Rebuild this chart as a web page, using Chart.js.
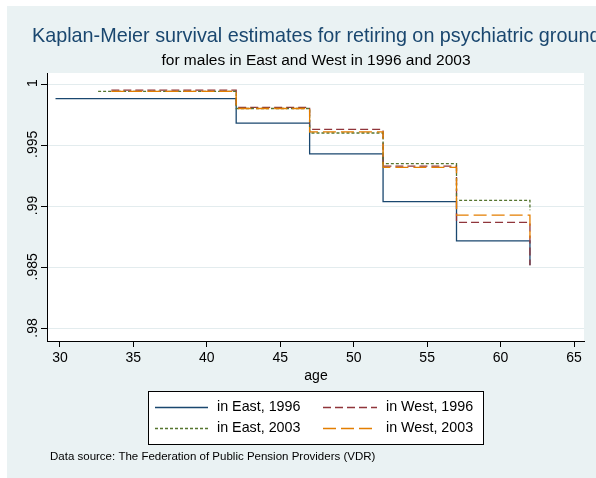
<!DOCTYPE html>
<html>
<head>
<meta charset="utf-8">
<script src="https://cdn.jsdelivr.net/npm/chart.js@4.4.1/dist/chart.umd.min.js"></script>
<style>
    html, body { margin: 0; padding: 0; background: #fff; overflow: hidden; }
    canvas { display: block; }
</style>
</head>
<body>
<canvas id="grafico" width="596" height="478"></canvas>
<script>
// textos
const titulo = 'Kaplan-Meier survival estimates for retiring on psychiatric grounds';
const subtitulo = 'for males in East and West in 1996 and 2003';
const tituloX = 'age';
const nota = 'Data source: The Federation of Public Pension Providers (VDR)';

// ticks
const ticksX = [30, 35, 40, 45, 50, 55, 60, 65];
const ticksY = [0.98, 0.985, 0.99, 0.995, 1];

// series (idade, sobrevivencia)
const nomes = ['in East, 1996', 'in West, 1996', 'in East, 2003', 'in West, 2003'];
const idadesLeste1996 = [29.7, 42, 47, 52, 57, 62];
const leste1996 = [0.9988, 0.9968, 0.9943, 0.9904, 0.9872, 0.9852];
const idadesOeste1996 = [33.5, 42, 47, 52, 57, 62];
const oeste1996 = [0.9995, 0.9981, 0.9963, 0.9933, 0.9887, 0.9852];
const idadesLeste2003 = [32.6, 42, 47, 52, 57, 62];
const leste2003 = [0.9994, 0.9980, 0.9960, 0.9935, 0.9905, 0.9897];
const idadesOeste2003 = [33.5, 42, 47, 52, 57, 62];
const oeste2003 = [0.9994, 0.9980, 0.9961, 0.9932, 0.9893, 0.9874];

const cores = ['#1a476f', '#90353b', '#55752f', '#e37e00'];
const tracos = [[], [8, 4], [3, 2], [13, 5]];

function pontos(idades, valores) {
    return idades.map((idade, i) => ({ x: idade, y: valores[i] }));
}

const series = [
    pontos(idadesLeste1996, leste1996),
    pontos(idadesOeste1996, oeste1996),
    pontos(idadesLeste2003, leste2003),
    pontos(idadesOeste2003, oeste2003)
];

const fundo = '#eaf2f3';
const fonte = '"Liberation Sans", Arial, sans-serif';

const pluginFundo = {
    id: 'fundo',
    beforeDraw(chart) {
        const ctx = chart.ctx;
        const area = chart.chartArea;
        ctx.save();
        ctx.fillStyle = '#fff';
        ctx.fillRect(0, 0, chart.width, chart.height);
        ctx.fillStyle = fundo;
        ctx.fillRect(7, 6, chart.width - 7, chart.height - 6);
        ctx.fillStyle = '#fff';
        ctx.fillRect(area.left, area.top, area.right - area.left, area.bottom - area.top);
        ctx.restore();
    }
};

const pluginTextos = {
    id: 'textos',
    afterDraw(chart) {
        const ctx = chart.ctx;
        const escalaY = chart.scales.y;
        ctx.save();

        // titulos (o titulo passa da borda direita, como no original)
        ctx.textAlign = 'left';
        ctx.textBaseline = 'middle';
        ctx.fillStyle = '#1a476f';
        ctx.font = '19.8px ' + fonte;
        ctx.fillText(titulo, 32, 37);
        ctx.textAlign = 'center';
        ctx.fillStyle = '#000';
        ctx.font = '15.5px ' + fonte;
        ctx.fillText(subtitulo, 316, 61);

        // rotulos do eixo y, girados
        ctx.font = '14px ' + fonte;
        ticksY.forEach(v => {
            const y = escalaY.getPixelForValue(v);
            ctx.save();
            ctx.translate(33, y - 1);
            ctx.rotate(-Math.PI / 2);
            ctx.fillText(String(v).replace(/^0/, ''), 0, 0);
            ctx.restore();
        });

        ctx.fillText(tituloX, 316, 376);

        // legenda
        ctx.fillStyle = '#fff';
        ctx.fillRect(148, 391, 335, 53);
        ctx.strokeStyle = '#000';
        ctx.lineWidth = 1;
        ctx.strokeRect(148.5, 391.5, 335, 53);

        const linhas = [407, 428];
        const colunas = [[155, 208, 217], [323, 377, 386]];
        nomes.forEach((nome, i) => {
            const y = linhas[Math.floor(i / 2)];
            const c = colunas[i % 2];
            ctx.strokeStyle = cores[i];
            ctx.lineWidth = 1.3;
            ctx.setLineDash(tracos[i]);
            ctx.beginPath();
            ctx.moveTo(c[0], y + 0.5);
            ctx.lineTo(c[1], y + 0.5);
            ctx.stroke();
            ctx.setLineDash([]);
            ctx.fillStyle = '#000';
            ctx.textAlign = 'left';
            ctx.font = '14.3px ' + fonte;
            ctx.fillText(nome, c[2], y);
        });

        // nota
        ctx.font = '11.5px ' + fonte;
        ctx.textAlign = 'left';
        ctx.fillText(nota, 50, 457);

        ctx.restore();
    }
};

const ctx = document.getElementById('grafico').getContext('2d');

const chart = new Chart(ctx, {
    type: 'line',
    data: {
        datasets: series.map((dados, i) => ({
            label: nomes[i],
            data: dados,
            borderColor: cores[i],
            borderWidth: 1.3,
            borderDash: tracos[i],
            pointRadius: 0,
            fill: false,
            stepped: 'before',
            order: 4 - i
        }))
    },
    options: {
        responsive: false,
        animation: false,
        events: [],
        layout: {
            padding: { left: 7, top: 73, right: 12, bottom: 107 }
        },
        plugins: {
            legend: { display: false },
            title: { display: false },
            tooltip: { enabled: false }
        },
        scales: {
            x: {
                type: 'linear',
                min: 29.12,
                max: 65.68,
                afterBuildTicks: (escala) => {
                    escala.ticks = ticksX.map(v => ({ value: v }));
                },
                afterFit: (escala) => {
                    escala.height = 30;
                },
                grid: {
                    drawOnChartArea: false,
                    tickLength: 6,
                    tickColor: '#000'
                },
                border: { color: '#000', width: 1 },
                ticks: {
                    color: '#000',
                    padding: 3,
                    maxRotation: 0,
                    font: { family: fonte, size: 14 }
                }
            },
            y: {
                type: 'linear',
                min: 0.97902,
                max: 1.0009,
                afterBuildTicks: (escala) => {
                    escala.ticks = ticksY.map(v => ({ value: v }));
                },
                afterFit: (escala) => {
                    escala.width = 40;
                },
                grid: {
                    color: '#e3ecee',
                    tickLength: 6,
                    tickColor: '#000'
                },
                border: { color: '#000', width: 1 },
                ticks: { display: false }
            }
        }
    },
    plugins: [pluginFundo, pluginTextos]
});
</script>
</body>
</html>
